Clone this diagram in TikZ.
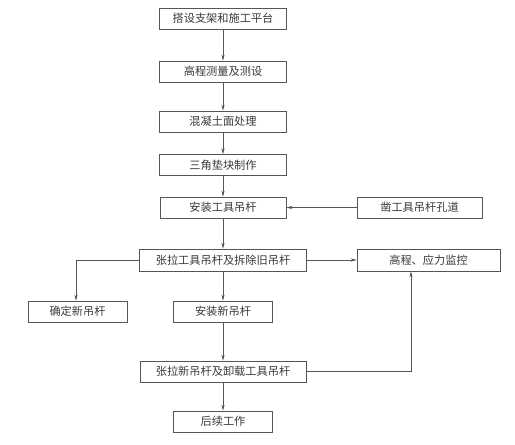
\documentclass[tikz,border=0pt]{standalone}
\usepackage{fontspec}
\newfontfamily\cjk{Noto Sans CJK SC}
\usetikzlibrary{arrows.meta}
\definecolor{ln}{HTML}{555555}
\definecolor{tx}{HTML}{3A3A3A}
\begin{document}
\begin{tikzpicture}[x=1pt,y=-1pt,
  box/.style={draw=ln,line width=0.7pt,fill=white,minimum height=21pt,inner sep=0pt,
    font=\cjk\fontsize{11.2pt}{13pt}\selectfont,text=tx},
  arr/.style={draw=ln,line width=0.7pt,-{Stealth[length=6pt,width=3.2pt]}}]
\useasboundingbox[fill=white] (0,0) rectangle (515,445);
\node[box,minimum width=127pt] (b1) at (223,18.5) {搭设支架和施工平台};
\node[box,minimum width=127pt] (b2) at (223,71.5) {高程测量及测设};
\node[box,minimum width=127pt] (b3) at (223,121.5) {混凝土面处理};
\node[box,minimum width=127pt] (b4) at (223,165) {三角垫块制作};
\node[box,minimum width=126pt] (b5) at (223,207.5) {安装工具吊杆};
\node[box,minimum width=125pt] (bz) at (419.5,207.5) {凿工具吊杆孔道};
\node[box,minimum width=167pt,minimum height=22pt] (b6) at (223,260) {张拉工具吊杆及拆除旧吊杆};
\node[box,minimum width=143pt,minimum height=22pt] (bm) at (428.5,260) {高程、应力监控};
\node[box,minimum width=99pt] (bq) at (77.5,311.5) {确定新吊杆};
\node[box,minimum width=99pt] (bn) at (223,311.5) {安装新吊杆};
\node[box,minimum width=166pt] (b7) at (223,371.5) {张拉新吊杆及卸载工具吊杆};
\node[box,minimum width=99pt] (b8) at (223,421.5) {后续工作};
\draw[arr] (b1) -- (b2);
\draw[arr] (b2) -- (b3);
\draw[arr] (b3) -- (b4);
\draw[arr] (b4) -- (b5);
\draw[arr] (bz) -- (b5);
\draw[arr] (b5) -- (b6);
\draw[arr] (b6) -- (bm);
\draw[arr] (b6.west) -| ([xshift=-1.5pt]bq.north);
\draw[arr] (b6) -- (bn);
\draw[arr] (bn) -- (b7);
\draw[arr] (b7) -- (b8);
\draw[arr] (b7.east) -| ([xshift=-17.5pt]bm.south);
\end{tikzpicture}
\end{document}
